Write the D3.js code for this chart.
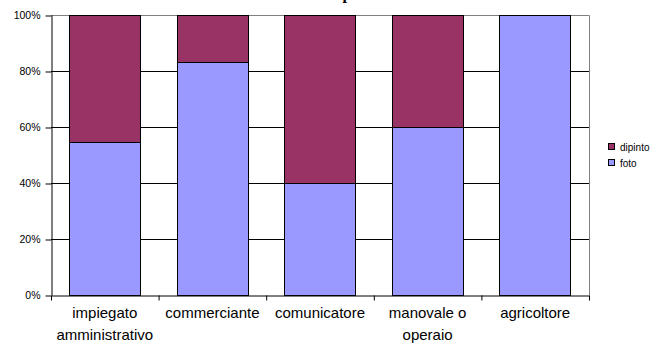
<!DOCTYPE html>
<html><head><meta charset="utf-8">
<script src="https://cdn.jsdelivr.net/npm/d3@7"></script>
<style>body{margin:0;background:#fff}svg{display:block}</style>
</head><body>
<svg id="c" width="656" height="347"></svg>
<script>
const categories = [["impiegato","amministrativo"],["commerciante"],["comunicatore"],["manovale o","operaio"],["agricoltore"]];
const foto = [54.5, 83.3, 40, 60, 100];
const dipinto = [45.5, 16.7, 60, 40, 0];
const seriesNames = ["foto","dipinto"];
const seriesColors = ["#9999FF","#993366"];
const yTicks = [0,20,40,60,80,100];
const titleText = "p";

const svg = d3.select("#c");
const L=51, R=589, T=15, B=295;
const x = d3.scaleBand().domain(d3.range(categories.length)).range([L,R]).paddingInner(1/3).paddingOuter(1/6);
const y = d3.scaleLinear().domain([0,100]).range([B,T]);

// title (mostly above view, as in the reference)
svg.append("text").attr("x",347).attr("y",-1).attr("text-anchor","middle")
  .attr("font-family","Liberation Serif").attr("font-weight","bold").attr("font-size",16).text(titleText);

// gridlines
svg.append("g").selectAll("line").data(yTicks.filter(d=>d>0&&d<100)).join("line")
  .attr("x1",L).attr("x2",R).attr("y1",d=>y(d)+0.5).attr("y2",d=>y(d)+0.5).attr("stroke","#000");
// border top/right
svg.append("path").attr("d",`M${L},${T+0.5}H${R+0.5}V${B}`).attr("fill","none").attr("stroke","#808080");

const stack = d3.stack().keys([0,1]).value((d,k)=> k===0?foto[d]:dipinto[d]);
const stacked = stack(d3.range(categories.length));
svg.append("g").selectAll("g").data(stacked).join("g").attr("fill",(d,i)=>seriesColors[i])
  .selectAll("rect").data(d=>d.filter(s=>s[1]-s[0]>0)).join("rect")
  .attr("x",s=>Math.round(x(s.data))+0.5).attr("width",Math.round(x.bandwidth())-1)
  .attr("y",s=>Math.round(y(s[1]))+0.5).attr("height",s=>Math.round(y(s[0]))-Math.round(y(s[1])))
  .attr("stroke","#000").attr("stroke-width",1);

// y axis
const ya = svg.append("g").attr("transform",`translate(${L+0.5},0)`)
  .call(d3.axisLeft(y).tickValues(yTicks).tickFormat(d=>d+"%").tickSize(6).tickSizeOuter(0));
ya.select(".domain").attr("stroke","#000");
ya.selectAll(".tick line").attr("stroke","#000").attr("transform","translate(0,0.5)");
ya.selectAll("text").attr("font-family","Liberation Sans, Arial").attr("font-size",10.5).attr("fill","#000").attr("x",-11);

// x axis
const xl = d3.scaleLinear().domain([0,categories.length]).range([L,R]);
const xa = svg.append("g").attr("transform",`translate(0,${B+0.5})`)
  .call(d3.axisBottom(xl).tickValues(d3.range(categories.length+1)).tickFormat("").tickSize(5).tickSizeOuter(0));
xa.select(".domain").attr("stroke","#000");
xa.selectAll(".tick line").attr("stroke","#000");

svg.append("g").selectAll("text").data(categories).join("text")
  .attr("x",(d,i)=>x(i)+x.bandwidth()/2).attr("y",318)
  .attr("text-anchor","middle").attr("font-family","Liberation Sans, Arial").attr("font-size",15)
  .selectAll("tspan").data(d=>d).join("tspan")
  .attr("x",function(){return d3.select(this.parentNode).attr("x");}).attr("dy",(d,i)=>i?22:0).text(d=>d);

// legend
const leg = [1,0];
const lg = svg.append("g").selectAll("g").data(leg).join("g")
  .attr("transform",(d,i)=>`translate(608,${143+i*16})`);
lg.append("rect").attr("x",0.5).attr("y",0.5).attr("width",6).attr("height",6)
  .attr("fill",d=>seriesColors[d]).attr("stroke","#000");
lg.append("text").attr("x",12).attr("y",7.5).attr("font-family","Liberation Sans, Arial").attr("font-size",10)
  .text(d=>seriesNames[d]);
</script>
</body></html>
